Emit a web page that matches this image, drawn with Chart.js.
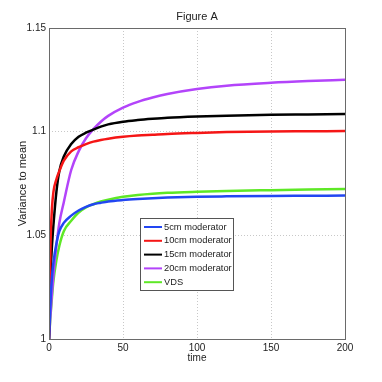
<!DOCTYPE html>
<html>
<head>
<meta charset="utf-8">
<script src="https://cdn.jsdelivr.net/npm/chart.js@4"></script>
<style>
  html, body { margin: 0; padding: 0; background: #fff; }
  #wrap { width: 382px; height: 382px; }
</style>
</head>
<body>
<div id="wrap"><canvas id="chart" width="382" height="382"></canvas></div>
<script>
// time axis samples
const times = [0, 1, 2, 3, 5, 7, 10, 15, 20, 25, 30, 35, 40, 50, 60, 70, 80, 100, 120, 150, 175, 200];

const mod5cm  = [1.0, 1.018, 1.030, 1.037, 1.046, 1.052, 1.056, 1.0595, 1.062, 1.0637, 1.0650, 1.0657, 1.0663, 1.0670, 1.0675, 1.0679, 1.0682, 1.0686, 1.0688, 1.0690, 1.0691, 1.0692];
const mod10cm = [1.0, 1.045, 1.063, 1.071, 1.077, 1.081, 1.086, 1.0905, 1.0925, 1.0940, 1.0952, 1.0960, 1.0966, 1.0975, 1.0981, 1.0985, 1.0989, 1.0994, 1.0998, 1.1001, 1.1002, 1.1003];
const mod15cm = [1.0, 1.030, 1.045, 1.055, 1.071, 1.081, 1.088, 1.0940, 1.0975, 1.0995, 1.1010, 1.1024, 1.1035, 1.1048, 1.1056, 1.1062, 1.1067, 1.1073, 1.1077, 1.1081, 1.1083, 1.1085];
const mod20cm = [1.0, 1.012, 1.022, 1.031, 1.045, 1.056, 1.066, 1.0815, 1.0905, 1.0968, 1.1012, 1.1048, 1.1076, 1.1116, 1.1144, 1.1165, 1.1182, 1.1206, 1.1222, 1.1236, 1.1244, 1.1250];
const vds     = [1.0, 1.011, 1.020, 1.028, 1.038, 1.045, 1.052, 1.057, 1.061, 1.0635, 1.0650, 1.0663, 1.0672, 1.0686, 1.0695, 1.0701, 1.0705, 1.0710, 1.0714, 1.0718, 1.0721, 1.0724];

const seriesLabels = ['5cm moderator', '10cm moderator', '15cm moderator', '20cm moderator', 'VDS'];
const seriesValues = [mod5cm, mod10cm, mod15cm, mod20cm, vds];
const seriesColors = ['#2246f2', '#f51616', '#000000', '#b344fa', '#5ee826'];

const xTicks = [0, 50, 100, 150, 200];
const yTicks = [1, 1.05, 1.1, 1.15];
const titleText = 'Figure A';

const FONT = 'Liberation Sans, Arial, Helvetica, sans-serif';

// matlab style box, title centred over the axes, legend inside the plot
const boxAndLegend = {
  id: 'boxAndLegend',
  afterDatasetsDraw(chart) {
    const ctx = chart.ctx;
    const a = chart.chartArea;
    ctx.save();
    ctx.strokeStyle = '#6a6a6a';
    ctx.lineWidth = 1;
    ctx.strokeRect(Math.round(a.left) + 0.5, Math.round(a.top) + 0.5,
      Math.round(a.right - a.left), Math.round(a.bottom - a.top));

    // title
    ctx.fillStyle = '#222';
    ctx.font = '11px ' + FONT;
    ctx.textAlign = 'center';
    ctx.textBaseline = 'middle';
    ctx.fillText(titleText, (a.left + a.right) / 2, a.top - 11);

    // legend
    const lx = Math.round(a.left) + 91;
    const ly = Math.round(a.top) + 190;
    const lw = 93, lh = 72;
    ctx.fillStyle = '#fff';
    ctx.fillRect(lx, ly, lw, lh);
    ctx.strokeStyle = '#555';
    ctx.strokeRect(lx + 0.5, ly + 0.5, lw, lh);
    ctx.font = '9.3px ' + FONT;
    ctx.textBaseline = 'middle';
    ctx.textAlign = 'left';
    chart.data.datasets.forEach((ds, i) => {
      const y = ly + 9 + i * 13.8;
      ctx.strokeStyle = ds.borderColor;
      ctx.lineWidth = 2;
      ctx.beginPath();
      ctx.moveTo(lx + 4, y);
      ctx.lineTo(lx + 22, y);
      ctx.stroke();
      ctx.fillStyle = '#222';
      ctx.fillText(ds.label, lx + 24, y);
    });
    ctx.restore();
  }
};

const ctx = document.getElementById('chart').getContext('2d');
const chart = new Chart(ctx, {
  type: 'line',
  data: {
    datasets: seriesLabels.map((label, i) => ({
      label: label,
      data: times.map((t, j) => ({ x: t, y: seriesValues[i][j] })),
      borderColor: seriesColors[i],
      borderWidth: 2.5,
      pointRadius: 0,
      cubicInterpolationMode: 'monotone',
      fill: false
    }))
  },
  options: {
    responsive: false,
    animation: false,
    layout: { padding: { left: 0, right: 37, top: 28, bottom: 0 } },
    plugins: {
      legend: { display: false },
      tooltip: { enabled: false },
      title: { display: false }
    },
    scales: {
      x: {
        type: 'linear',
        min: 0,
        max: 200,
        afterBuildTicks: s => { s.ticks = xTicks.map(v => ({ value: v })); },
        afterFit: s => { s.height = 43; },
        grid: { color: '#c8c8c8', lineWidth: 1, drawTicks: false },
        border: { display: false, dash: [1, 2] },
        ticks: { color: '#222', font: { family: FONT, size: 10 }, padding: 3, maxRotation: 0 },
        title: {
          display: true, text: 'time', color: '#222',
          font: { family: FONT, size: 10 }, padding: { top: 0, bottom: 18 }
        }
      },
      y: {
        min: 1,
        max: 1.15,
        afterBuildTicks: s => { s.ticks = yTicks.map(v => ({ value: v })); },
        afterFit: s => { s.width = 49; },
        grid: { color: '#c8c8c8', lineWidth: 1, drawTicks: false },
        border: { display: false, dash: [1, 2] },
        ticks: {
          color: '#222', font: { family: FONT, size: 10 }, padding: 3,
          callback: v => String(parseFloat(v.toFixed(2)))
        },
        title: {
          display: true, text: 'Variance to mean', color: '#222',
          font: { family: FONT, size: 11 }, padding: { top: 16, bottom: 0 }
        }
      }
    }
  },
  plugins: [boxAndLegend]
});
</script>
</body>
</html>
